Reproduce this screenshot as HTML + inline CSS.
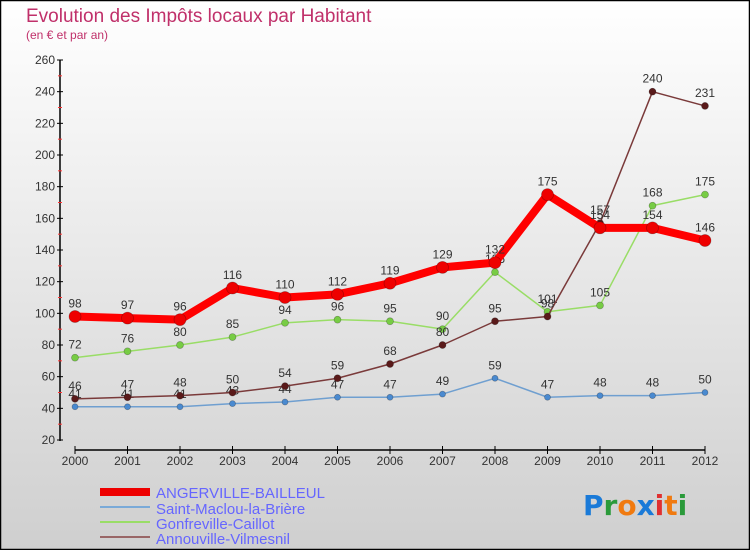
<!DOCTYPE html>
<html><head><meta charset="utf-8"><style>
body{margin:0;width:750px;height:550px;overflow:hidden;font-family:"Liberation Sans",sans-serif}
</style></head><body>
<svg id="chart" width="750" height="550" xmlns="http://www.w3.org/2000/svg">
<defs><linearGradient id="bg" x1="0" y1="0" x2="0" y2="1"><stop offset="0" stop-color="#ffffff"/><stop offset="1" stop-color="#cfcfcf"/></linearGradient></defs>
<rect x="0.5" y="0.5" width="749" height="549" fill="url(#bg)" stroke="#000" stroke-width="1.5"/>
<text x="26" y="22" font-size="19" fill="#c0306a">Evolution des Impôts locaux par Habitant</text>
<text x="26" y="39" font-size="12" fill="#c0306a">(en € et par an)</text>
<g id="axes"></g>
<g id="series"></g>
<g id="legend">
<rect x="100" y="488" width="50" height="8" fill="#ee0000"/>
<text x="156" y="498" font-size="15" fill="#6666ff">ANGERVILLE-BAILLEUL</text>
<rect x="100" y="506" width="50" height="2" fill="#7aaad8"/>
<text x="156" y="514" font-size="15" fill="#6666ff">Saint-Maclou-la-Brière</text>
<rect x="100" y="521" width="50" height="2" fill="#99dd66"/>
<text x="156" y="529" font-size="15" fill="#6666ff">Gonfreville-Caillot</text>
<rect x="100" y="536" width="50" height="2" fill="#996666"/>
<text x="156" y="544" font-size="15" fill="#6666ff">Annouville-Vilmesnil</text>
</g>
<text x="583" y="515" font-size="28" font-weight="bold" font-family="'DejaVu Sans',sans-serif"><tspan fill="#1a7ad8">P</tspan><tspan fill="#2a9a3a">r</tspan><tspan fill="#f07a10">o</tspan><tspan fill="#1a7ad8">x</tspan><tspan fill="#e03030">i</tspan><tspan fill="#f07a10">t</tspan><tspan fill="#2a9a3a">i</tspan></text>
</svg>
<script>
const years=[2000,2001,2002,2003,2004,2005,2006,2007,2008,2009,2010,2011,2012];
const angerville=[98,97,96,116,110,112,119,129,132,175,154,154,146];
const saintMaclou=[41,41,41,43,44,47,47,49,59,47,48,48,50];
const gonfreville=[72,76,80,85,94,96,95,90,126,101,105,168,175];
const annouville=[46,47,48,50,54,59,68,80,95,98,157,240,231];
const yTicks=[20,40,60,80,100,120,140,160,180,200,220,240,260];
const NS="http://www.w3.org/2000/svg";
function X(i){return 75+i*(705-75)/(years.length-1);}
function Y(v){return 440-(v-20)*(380/240);}
function mk(tag,attrs,parent){const e=document.createElementNS(NS,tag);for(const k in attrs)e.setAttribute(k,attrs[k]);parent.appendChild(e);return e;}
const axes=document.getElementById('axes');
let yl=mk('line',{x1:60,y1:60,x2:60,y2:441,stroke:'#000','stroke-width':1.5},axes);


yTicks.forEach(t=>{
  mk('line',{x1:57,y1:Y(t),x2:63,y2:Y(t),stroke:'#000'},axes);
  const tx=mk('text',{x:55,y:Y(t)+4,'font-size':12,fill:'#333','text-anchor':'end'},axes);
  tx.textContent=t;
  
  
  if(t<260) mk('line',{x1:58,y1:Y(t+10),x2:62,y2:Y(t+10),stroke:'#ff3333'},axes);
});
let xl=mk('line',{x1:75,y1:450,x2:705,y2:450,stroke:'#000','stroke-width':1.5},axes);


years.forEach((yr,i)=>{
  mk('line',{x1:X(i),y1:446,x2:X(i),y2:454,stroke:'#000'},axes);
  const tx=mk('text',{x:X(i),y:465,'font-size':12,fill:'#333','text-anchor':'middle'},axes);
  tx.textContent=yr;
  
  
});
const ser=document.getElementById('series');
function draw(vals,name,color,dot,w,r){
  const g=mk('g',{},ser);
  
  
  const p=mk('polyline',{points:vals.map((v,i)=>X(i)+','+Y(v)).join(' '),fill:'none',stroke:color,'stroke-width':w,'stroke-linejoin':'round'},g);
  
  
  vals.forEach((v,i)=>{
    const c=mk('circle',{cx:X(i),cy:Y(v),r:r,fill:dot,stroke:'rgba(0,0,0,0.3)','stroke-width':0.7},g);
    
    
    const t=mk('text',{x:X(i),y:Y(v)-9,'font-size':12,fill:'#333','text-anchor':'middle'},g);
    t.textContent=v;
    
    
  });
}
draw(saintMaclou,'saint-maclou','#6f9fd0','#4a8ad0',1.5,3);
draw(gonfreville,'gonfreville','#99dd66','#77cc44',1.5,3.5);
draw(annouville,'annouville','#7a3a3a','#5a1a1a',1.5,3.5);
draw(angerville,'angerville','#ff0000','#ee0000',8,6);
</script>
</body></html>
